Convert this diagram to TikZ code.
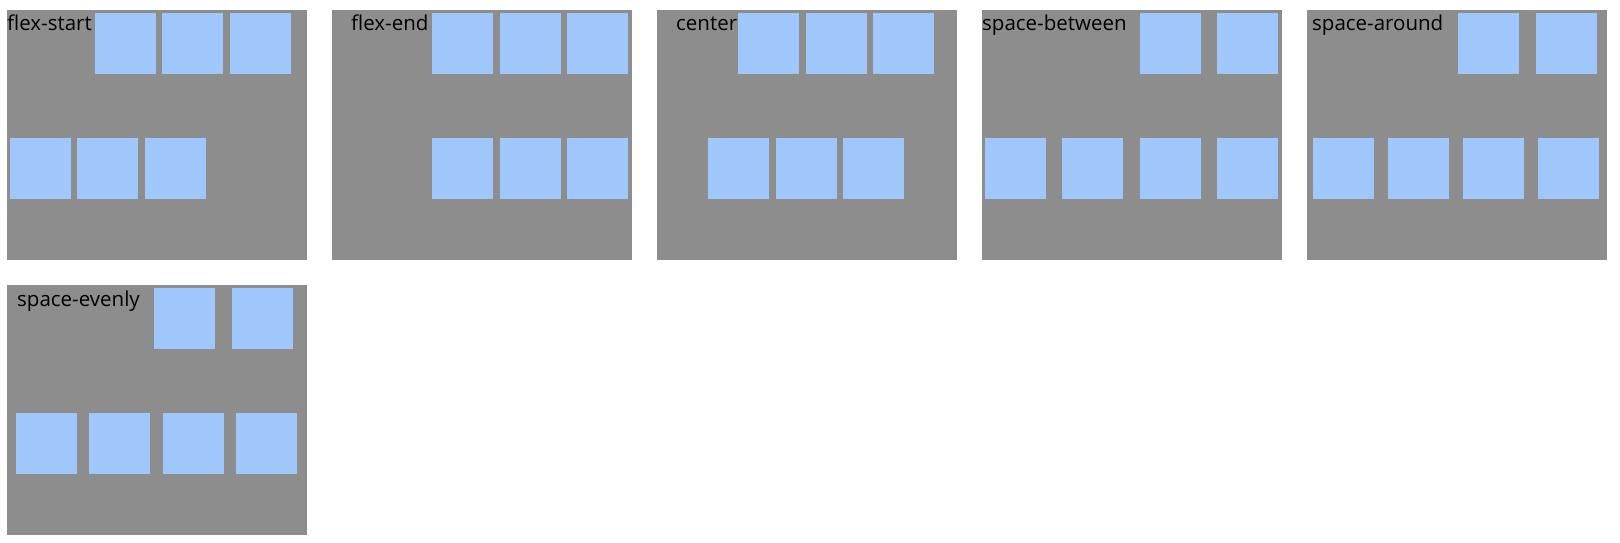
\documentclass[tikz,border=0pt]{standalone}
\usepackage{fontspec}
\setmainfont{Open Sans}
\definecolor{panelgrey}{RGB}{141,141,141}
\definecolor{itemblue}{RGB}{160,199,252}
\tikzset{
  panel/.style={rectangle, fill=panelgrey, inner sep=0pt, outer sep=0pt, minimum width=300pt, minimum height=250pt, anchor=north west},
  item/.style={rectangle, fill=itemblue, inner sep=0pt, outer sep=0pt, minimum width=61pt, minimum height=61pt, anchor=north west},
  lbl/.style={anchor=base west, inner sep=0pt, font=\fontsize{20.5}{24}\selectfont}
}

\begin{document}
\begin{tikzpicture}[x=1pt, y=-1pt]
\useasboundingbox (0,0) rectangle (1620,543);

% containers
\node (start) [panel] at (7,10) {};
\node (end) [panel] at (332,10) {};
\node (center) [panel] at (657,10) {};
\node (between) [panel] at (982,10) {};
\node (around) [panel] at (1307,10) {};
\node (evenly) [panel] at (7,285) {};

% flex-start
\node (startlbl) [lbl] at (7,31) {flex-start};
\foreach \x [count=\i] in {95,162,230} \node (starta\i) [item] at (\x,13) {};
\foreach \x [count=\i] in {10,77,145} \node (startb\i) [item] at (\x,138) {};

% flex-end
\node (endlbl) [lbl] at (351,31) {flex-end};
\foreach \x [count=\i] in {432,500,567} \node (enda\i) [item] at (\x,13) {};
\foreach \x [count=\i] in {432,500,567} \node (endb\i) [item] at (\x,138) {};

% center
\node (centerlbl) [lbl] at (676,31) {center};
\foreach \x [count=\i] in {738,806,873} \node (centera\i) [item] at (\x,13) {};
\foreach \x [count=\i] in {708,776,843} \node (centerb\i) [item] at (\x,138) {};

% space-between
\node (betweenlbl) [lbl] at (982,31) {space-between};
\foreach \x [count=\i] in {1140,1217} \node (betweena\i) [item] at (\x,13) {};
\foreach \x [count=\i] in {985,1062,1140,1217} \node (betweenb\i) [item] at (\x,138) {};

% space-around
\node (aroundlbl) [lbl] at (1312,31) {space-around};
\foreach \x [count=\i] in {1458,1536} \node (arounda\i) [item] at (\x,13) {};
\foreach \x [count=\i] in {1313,1388,1463,1538} \node (aroundb\i) [item] at (\x,138) {};

% space-evenly
\node (evenlylbl) [lbl] at (17,306) {space-evenly};
\foreach \x [count=\i] in {154,232} \node (evenlya\i) [item] at (\x,288) {};
\foreach \x [count=\i] in {16,89,163,236} \node (evenlyb\i) [item] at (\x,413) {};

\end{tikzpicture}
\end{document}
